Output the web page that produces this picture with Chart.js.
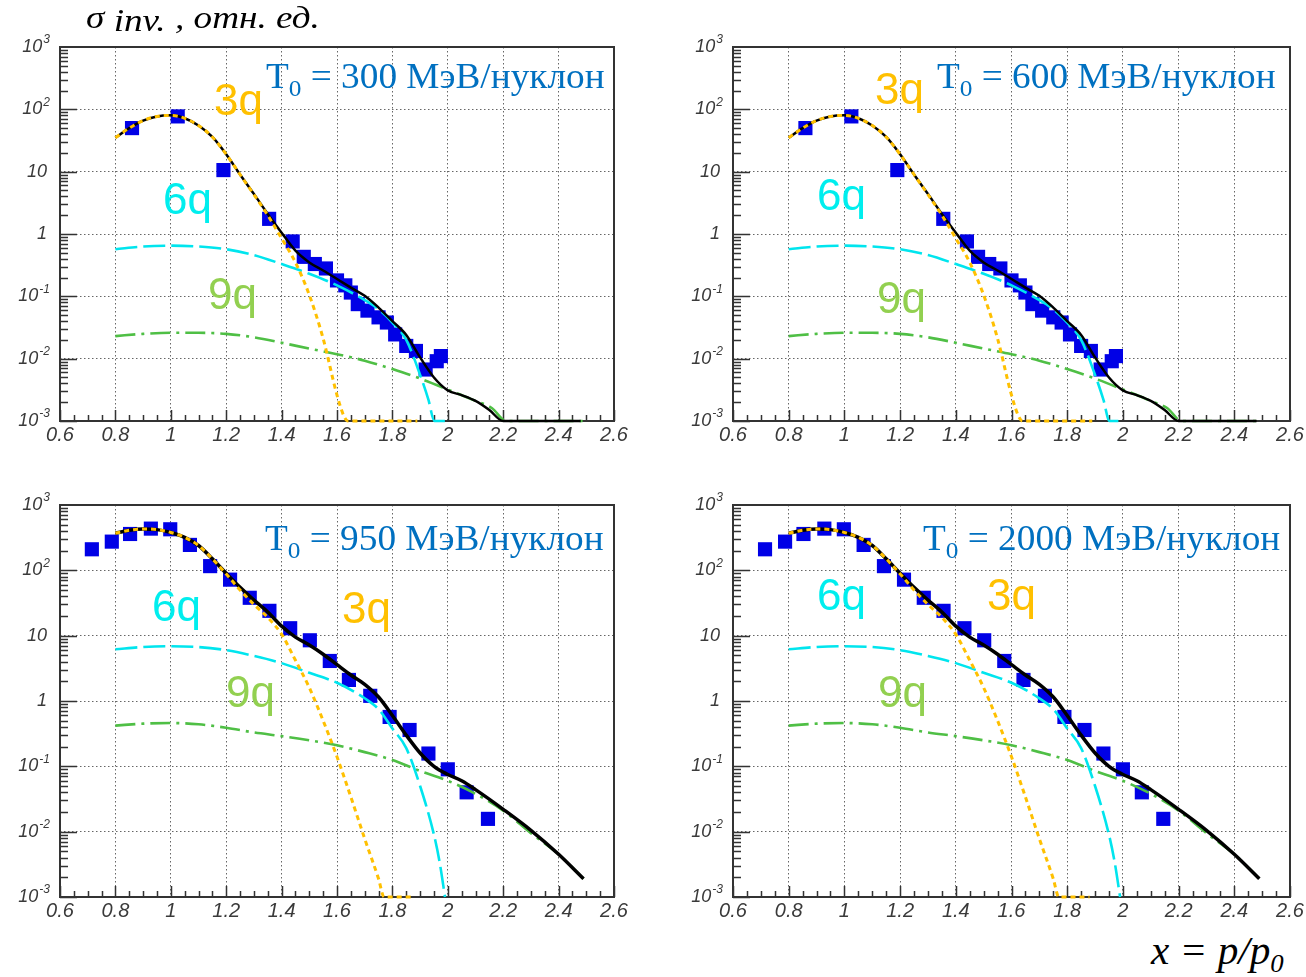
<!DOCTYPE html>
<html>
<head>
<meta charset="utf-8">
<script src="https://cdn.jsdelivr.net/npm/chart.js@4/dist/chart.umd.min.js"></script>
<style>
  body { margin: 0; background: #fff; width: 1306px; height: 977px; position: relative; overflow: hidden; }
  canvas { position: absolute; }
  .lbl { position: absolute; line-height: 1; white-space: nowrap; transform-origin: 0 0; }
  .t0 { font-family: "Liberation Serif", "Times New Roman", serif; font-size: 35px; color: #0070c0; transform: scaleX(1.065); }
  .t0 span { font-size: 0.68em; position: relative; top: 0.32em; }
  .q { font-family: "Liberation Sans", Arial, sans-serif; font-size: 44px; }
  .q3 { color: #ffc000; }
  .q6 { color: #00eeee; }
  .q9 { color: #92d050; }
  .ital { font-family: "Liberation Serif", "Times New Roman", serif; font-style: italic; color: #000; }
</style>
</head>
<body>
<canvas id="c300" width="640" height="420" style="left:0;top:30px"></canvas>
<canvas id="c600" width="636" height="420" style="left:670px;top:30px"></canvas>
<canvas id="c950" width="640" height="437" style="left:0;top:490px"></canvas>
<canvas id="c2000" width="636" height="437" style="left:670px;top:490px"></canvas>

<div class="lbl ital" style="left:86px;top:2px;font-size:31px;transform:scaleX(1.2)">σ <span style="position:relative;top:3px">inv.</span> , отн. ед.</div>
<div class="lbl ital" style="left:1151px;top:931px;font-size:40px;transform:scaleX(1.03)">x = p/p<span style="font-size:0.65em;position:relative;top:0.3em">0</span></div>

<div class="lbl t0" style="left:266px;top:59px">T<span>0</span> = 300 МэВ/нуклон</div>
<div class="lbl q q3" style="left:214px;top:78px">3q</div>
<div class="lbl q q6" style="left:163px;top:177px">6q</div>
<div class="lbl q q9" style="left:208px;top:272px">9q</div>

<div class="lbl t0" style="left:937px;top:59px">T<span>0</span> = 600 МэВ/нуклон</div>
<div class="lbl q q3" style="left:875px;top:67px">3q</div>
<div class="lbl q q6" style="left:817px;top:173px">6q</div>
<div class="lbl q q9" style="left:877px;top:276px">9q</div>

<div class="lbl t0" style="left:265px;top:521px">T<span>0</span> = 950 МэВ/нуклон</div>
<div class="lbl q q6" style="left:152px;top:584px">6q</div>
<div class="lbl q q3" style="left:342px;top:586px">3q</div>
<div class="lbl q q9" style="left:226px;top:670px">9q</div>

<div class="lbl t0" style="left:923px;top:521px">T<span>0</span> = 2000 МэВ/нуклон</div>
<div class="lbl q q6" style="left:817px;top:573px">6q</div>
<div class="lbl q q3" style="left:987px;top:573px">3q</div>
<div class="lbl q q9" style="left:878px;top:670px">9q</div>

<script>
// x = p/p0 axis and log y axis
const xTicks = [0.6, 0.8, 1, 1.2, 1.4, 1.6, 1.8, 2, 2.2, 2.4, 2.6];
const yTicks = [1e-3, 1e-2, 1e-1, 1, 10, 100, 1000];
const yTickBase = ['10', '10', '10', '1', '10', '10', '10'];
const yTickExp = ['-3', '-2', '-1', '', '', '2', '3'];

// T0 = 300 and 600 MeV/nucleon (same data in both panels)
const lowDataX = [0.86, 1.025, 1.19, 1.355, 1.44, 1.48, 1.52, 1.56, 1.6, 1.63, 1.65, 1.675, 1.71, 1.75, 1.78, 1.81, 1.85, 1.885, 1.92, 1.96, 1.975];
const lowDataY = [50, 77, 10.6, 1.75, 0.76, 0.43, 0.33, 0.28, 0.18, 0.15, 0.115, 0.075, 0.059, 0.046, 0.038, 0.0245, 0.016, 0.0133, 0.0067, 0.0091, 0.011];

const lowSumX = [0.8, 0.85, 0.9, 0.95, 1.0, 1.05, 1.1, 1.15, 1.2, 1.25, 1.3, 1.35, 1.4, 1.45, 1.5, 1.55, 1.6, 1.65, 1.7, 1.75, 1.8, 1.85, 1.9, 1.95, 2.0, 2.05, 2.1, 2.15, 2.2, 2.3, 2.4, 2.48];
const lowSumY = [35, 50, 66, 77, 80, 72, 55, 36, 19, 9, 4.4, 2.1, 1.05, 0.54, 0.35, 0.26, 0.19, 0.138, 0.102, 0.066, 0.04, 0.024, 0.0105, 0.005, 0.0031, 0.0026, 0.0021, 0.0015, 0.001, 0.001, 0.001, 0.001];

const low3qX = [0.8, 0.85, 0.9, 0.95, 1.0, 1.05, 1.1, 1.15, 1.2, 1.25, 1.3, 1.35, 1.4, 1.45, 1.5, 1.55, 1.6, 1.625, 1.64, 1.75, 1.89];
const low3qY = [35, 50, 66, 77, 80, 72, 55, 36, 19, 9, 4.3, 2.0, 0.85, 0.35, 0.105, 0.021, 0.0026, 0.0012, 0.001, 0.001, 0.001];

const low6qX = [0.8, 0.9, 1.0, 1.1, 1.2, 1.3, 1.4, 1.5, 1.6, 1.7, 1.75, 1.8, 1.85, 1.9, 1.93, 1.952, 2.0];
const low6qY = [0.57, 0.63, 0.65, 0.63, 0.57, 0.46, 0.33, 0.23, 0.15, 0.087, 0.062, 0.038, 0.02, 0.0055, 0.0022, 0.001, 0.001];

const low9qX = [0.8, 0.9, 1.0, 1.1, 1.2, 1.3, 1.4, 1.5, 1.6, 1.7, 1.8, 1.9, 2.0, 2.1, 2.16, 2.21, 2.3, 2.4, 2.49];
const low9qY = [0.023, 0.025, 0.026, 0.026, 0.025, 0.022, 0.018, 0.0145, 0.0118, 0.0093, 0.0068, 0.0048, 0.0032, 0.0021, 0.0016, 0.001, 0.001, 0.001, 0.001];

// T0 = 950 and 2000 MeV/nucleon (same data in both panels)
const highDataX = [0.715, 0.787, 0.853, 0.928, 0.998, 1.069, 1.142, 1.214, 1.285, 1.356, 1.431, 1.502, 1.574, 1.643, 1.72, 1.79, 1.862, 1.93, 2.0, 2.068, 2.145];
const highDataY = [210, 275, 360, 435, 425, 245, 116, 72, 38, 24, 13, 8.5, 4.1, 2.1, 1.2, 0.57, 0.36, 0.157, 0.09, 0.04, 0.0157];

const highSumX = [0.8, 0.85, 0.9, 0.95, 1.0, 1.05, 1.1, 1.15, 1.2, 1.25, 1.3, 1.35, 1.4, 1.45, 1.5, 1.55, 1.6, 1.65, 1.7, 1.75, 1.8, 1.85, 1.9, 1.95, 2.0, 2.05, 2.1, 2.2, 2.3, 2.4, 2.49];
const highSumY = [370, 410, 430, 420, 380, 320, 240, 150, 90, 55, 35, 23, 14, 9.5, 7.2, 5.2, 3.6, 2.5, 1.8, 1.15, 0.6, 0.3, 0.16, 0.1, 0.075, 0.06, 0.044, 0.022, 0.0105, 0.0045, 0.0019];

const high3qX = [0.8, 0.85, 0.9, 0.95, 1.0, 1.05, 1.1, 1.15, 1.2, 1.25, 1.3, 1.35, 1.4, 1.45, 1.5, 1.55, 1.6, 1.65, 1.7, 1.75, 1.77, 1.88];
const high3qY = [370, 410, 430, 420, 380, 320, 240, 150, 88, 50, 30, 19, 10.5, 4.2, 1.6, 0.5, 0.14, 0.034, 0.0078, 0.0019, 0.001, 0.001];

const high6qX = [0.8, 0.9, 1.0, 1.1, 1.2, 1.3, 1.4, 1.5, 1.6, 1.7, 1.75, 1.8, 1.85, 1.9, 1.95, 1.97, 1.99];
const high6qY = [6.2, 6.7, 6.9, 6.7, 6.0, 4.9, 3.8, 2.7, 1.9, 1.1, 0.75, 0.38, 0.19, 0.05, 0.009, 0.0035, 0.001];

const high9qX = [0.8, 0.9, 1.0, 1.1, 1.2, 1.3, 1.4, 1.5, 1.6, 1.7, 1.8, 1.9, 2.0, 2.1, 2.2, 2.3, 2.4, 2.49];
const high9qY = [0.42, 0.45, 0.46, 0.44, 0.39, 0.33, 0.29, 0.25, 0.21, 0.165, 0.125, 0.085, 0.06, 0.038, 0.021, 0.0095, 0.0045, 0.0019];

function pts(xs, ys) {
    return xs.map((x, i) => ({ x: x, y: ys[i] }));
}

// frame + ROOT-like inner ticks, drawn under the curves
const framePlugin = {
    id: 'frame',
    beforeDatasetsDraw(chart) {
        const { ctx, chartArea: a, scales: { x, y } } = chart;
        ctx.save();
        ctx.strokeStyle = '#333';
        ctx.lineWidth = 1.5;
        ctx.beginPath();
        for (let e = -3; e < 3; e++) {
            for (let m = 1; m < 10; m++) {
                const py = Math.round(y.getPixelForValue(m * Math.pow(10, e))) + 0.5;
                const len = m === 1 ? 17 : 8;
                ctx.moveTo(a.left, py);
                ctx.lineTo(a.left + len, py);
            }
        }
        for (let i = 0; i <= 40; i++) {
            const px = Math.round(x.getPixelForValue(0.6 + i * 0.05)) + 0.5;
            const len = i % 4 === 0 ? 11 : 6;
            ctx.moveTo(px, a.bottom);
            ctx.lineTo(px, a.bottom - len);
        }
        ctx.stroke();
        ctx.lineWidth = 2;
        ctx.strokeRect(a.left, a.top, a.right - a.left, a.bottom - a.top);
        ctx.restore();
    },
    // y labels as 10 with a raised exponent
    afterDraw(chart) {
        const { ctx, chartArea: a, scales: { y } } = chart;
        ctx.save();
        ctx.fillStyle = '#3a3a3a';
        ctx.textBaseline = 'middle';
        ctx.textAlign = 'left';
        yTicks.forEach((v, i) => {
            const py = y.getPixelForValue(v);
            ctx.font = 'italic 18px "Liberation Sans"';
            const wb = ctx.measureText(yTickBase[i]).width;
            ctx.font = 'italic 12px "Liberation Sans"';
            const we = yTickExp[i] ? ctx.measureText(yTickExp[i]).width + 1 : 0;
            const right = a.left - (yTickExp[i] ? 10 : 13);
            const x0 = right - wb - we;
            ctx.font = 'italic 18px "Liberation Sans"';
            ctx.fillText(yTickBase[i], x0, py);
            if (yTickExp[i]) {
                ctx.font = 'italic 12px "Liberation Sans"';
                ctx.fillText(yTickExp[i], x0 + wb + 1, py - 7);
            }
        });
        ctx.restore();
    }
};

function makePanel(p) {
    const ctx = document.getElementById(p.id).getContext('2d');
    new Chart(ctx, {
        type: 'line',
        data: {
            datasets: [
                { label: '3q', data: pts(p.x3q, p.y3q), borderColor: '#ffc000', borderWidth: 3, borderDash: [5, 4], pointRadius: 0, cubicInterpolationMode: 'monotone', clip: 4, order: 1 },
                { label: 'sum', data: pts(p.sumX, p.sumY), borderColor: '#000000', borderWidth: p.sumW, pointRadius: 0, cubicInterpolationMode: 'monotone', clip: 4, order: 2 },
                { label: '6q', data: pts(p.x6q, p.y6q), borderColor: '#00e5ee', borderWidth: 2.6, borderDash: [22, 6], pointRadius: 0, cubicInterpolationMode: 'monotone', clip: 4, order: 3 },
                { label: '9q', data: pts(p.x9q, p.y9q), borderColor: '#4fbf45', borderWidth: 2.6, borderDash: [20, 6, 3, 6], pointRadius: 0, cubicInterpolationMode: 'monotone', clip: 4, order: 4 },
                { label: 'data', data: pts(p.dataX, p.dataY), showLine: false, pointStyle: 'rect', pointRadius: 10, pointBorderWidth: 0, pointBackgroundColor: '#0000e6', order: 5 }
            ]
        },
        options: {
            responsive: false,
            animation: false,
            layout: { padding: { top: p.padTop, right: p.padRight, left: 0, bottom: 0 } },
            plugins: { legend: { display: false }, tooltip: { enabled: false } },
            scales: {
                x: {
                    type: 'linear',
                    min: 0.6,
                    max: 2.6,
                    afterFit(s) { s.height = p.xH; },
                    afterBuildTicks(s) { s.ticks = xTicks.map(v => ({ value: v })); },
                    grid: { color: '#666', lineWidth: 1, drawTicks: false },
                    border: { display: false, dash: [1.5, 2.5] },
                    ticks: {
                        autoSkip: false,
                        maxRotation: 0,
                        padding: 2,
                        color: '#3a3a3a',
                        font: { family: 'Liberation Sans', size: 20, style: 'italic' },
                        callback: v => String(Number(v.toFixed(1)))
                    }
                },
                y: {
                    type: 'logarithmic',
                    min: 1e-3,
                    max: 1e3,
                    afterFit(s) { s.width = p.yW; },
                    afterBuildTicks(s) { s.ticks = yTicks.map(v => ({ value: v })); },
                    grid: { color: '#666', lineWidth: 1, drawTicks: false },
                    border: { display: false, dash: [1.5, 2.5] },
                    ticks: { display: false }
                }
            }
        },
        plugins: [framePlugin]
    });
}

const low = { dataX: lowDataX, dataY: lowDataY, sumX: lowSumX, sumY: lowSumY, x3q: low3qX, y3q: low3qY, x6q: low6qX, y6q: low6qY, x9q: low9qX, y9q: low9qY, sumW: 2.5 };
const high = { dataX: highDataX, dataY: highDataY, sumX: highSumX, sumY: highSumY, x3q: high3qX, y3q: high3qY, x6q: high6qX, y6q: high6qY, x9q: high9qX, y9q: high9qY, sumW: 3.5 };

makePanel(Object.assign({ id: 'c300', yW: 60, padTop: 17, padRight: 26, xH: 29 }, low));
makePanel(Object.assign({ id: 'c600', yW: 63, padTop: 17, padRight: 16, xH: 29 }, low));
makePanel(Object.assign({ id: 'c950', yW: 60, padTop: 15, padRight: 26, xH: 30 }, high));
makePanel(Object.assign({ id: 'c2000', yW: 63, padTop: 15, padRight: 16, xH: 30 }, high));
</script>
</body>
</html>
